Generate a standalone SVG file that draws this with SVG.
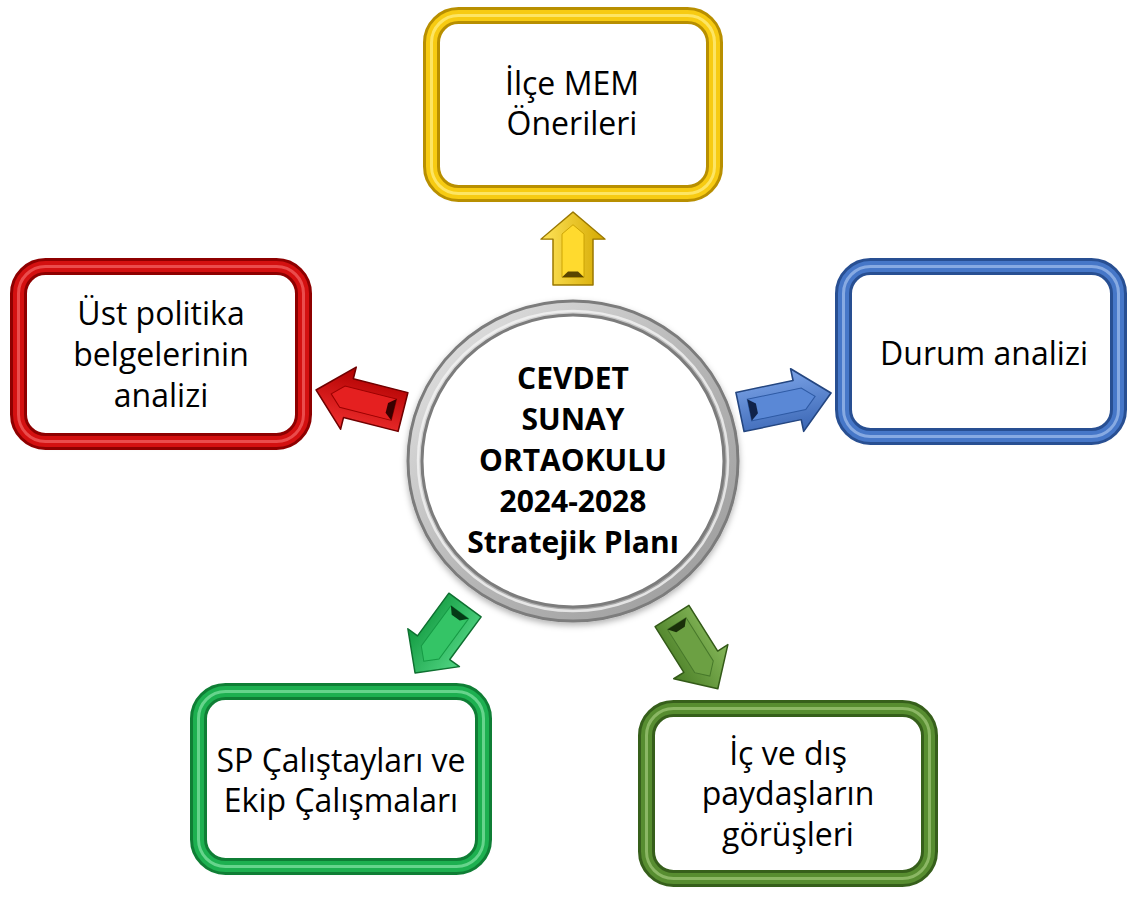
<svg xmlns="http://www.w3.org/2000/svg" width="1129" height="897" viewBox="0 0 1129 897">
<defs>
<style>
.t{font-family:"Open Sans","Liberation Sans",sans-serif;font-size:32px;fill:#000;text-anchor:middle}
.c{font-weight:bold;font-size:30px}
.inner{fill:#fff}
.f1{fill:none;stroke-width:17}
.f2{fill:none;stroke-width:11}
.f3{fill:none;stroke-width:3;opacity:.75}
.yellow .f1{stroke:#B88F00}.yellow .f2{stroke:#F7CB12}.yellow .f3{stroke:#FFEE80}
.red .f1{stroke:#8E0000}.red .f2{stroke:#D41010}.red .f3{stroke:#F26060}
.blue .f1{stroke:#284F92}.blue .f2{stroke:#4677C8}.blue .f3{stroke:#9DBBEB}
.green .f1{stroke:#0F7E35}.green .f2{stroke:#1DB050}.green .f3{stroke:#7FE0A0}
.olive .f1{stroke:#365F1B}.olive .f2{stroke:#578D30}.olive .f3{stroke:#9CC576}
.ao{stroke-width:1.5;stroke-linejoin:round}
.ai{stroke-width:1}
.an{stroke:none}
.yellow .ao{fill:url(#gY);stroke:#9A7800}.yellow .ai{fill:#FFDA2E;stroke:#C9A000}.yellow .an{fill:#5A4500}
.red .ao{fill:url(#gR);stroke:#700000}.red .ai{fill:#E52020;stroke:#9A0000}.red .an{fill:#3A0000}
.blue .ao{fill:url(#gB);stroke:#244680}.blue .ai{fill:#5A88D6;stroke:#2E5AA4}.blue .an{fill:#10234A}
.green .ao{fill:url(#gG);stroke:#0E7030}.green .ai{fill:#34C466;stroke:#159A44}.green .an{fill:#053A16}
.olive .ao{fill:url(#gO);stroke:#335A18}.olive .ai{fill:#6CA043;stroke:#47782A}.olive .an{fill:#1A300A}
</style>
<linearGradient id="gY" x1="0" y1="0" x2="0" y2="1"><stop offset="0" stop-color="#FFE45A"/><stop offset="1" stop-color="#D4A800"/></linearGradient>
<linearGradient id="gR" x1="0" y1="0" x2="0" y2="1"><stop offset="0" stop-color="#F23030"/><stop offset="1" stop-color="#B00000"/></linearGradient>
<linearGradient id="gB" x1="0" y1="0" x2="0" y2="1"><stop offset="0" stop-color="#7AA2E6"/><stop offset="1" stop-color="#3A66B4"/></linearGradient>
<linearGradient id="gG" x1="0" y1="0" x2="0" y2="1"><stop offset="0" stop-color="#52D684"/><stop offset="1" stop-color="#129A40"/></linearGradient>
<linearGradient id="gO" x1="0" y1="0" x2="0" y2="1"><stop offset="0" stop-color="#86B85A"/><stop offset="1" stop-color="#4A7E26"/></linearGradient>
<linearGradient id="gRing" x1="0" y1="0" x2="1" y2="1"><stop offset="0" stop-color="#E6E6E6"/><stop offset="0.5" stop-color="#B8B8B8"/><stop offset="1" stop-color="#9A9A9A"/></linearGradient>
<filter id="sh" x="-10%" y="-10%" width="120%" height="125%"><feDropShadow dx="0" dy="3" stdDeviation="3" flood-color="#000" flood-opacity="0.3"/></filter>
<path id="aO" d="M0,-20 H54 V-32 L86,0 L54,32 V20 H0 Z"/>
<path id="aI" d="M9,-11 H60 L71,0 L60,11 H9 Z"/>
<path id="aN" d="M9,-11 L16,-5 V5 L9,11 Z"/>
</defs>
<rect width="1129" height="897" fill="#fff"/>

<g id="connectors">
  <g class="yellow" transform="translate(573,285) rotate(-90) scale(0.849,1)"><use href="#aO" class="ao"/><use href="#aI" class="ai"/><use href="#aN" class="an"/></g>
  <g class="red" transform="translate(403,412) rotate(194.2) scale(1.043,1)"><use href="#aO" class="ao"/><use href="#aI" class="ai"/><use href="#aN" class="an"/></g>
  <g class="blue" transform="translate(740,412) rotate(-11.8) scale(1.081,1)"><use href="#aO" class="ao"/><use href="#aI" class="ai"/><use href="#aN" class="an"/></g>
  <g class="green" transform="translate(465,605) rotate(126.3) scale(0.981,1)"><use href="#aO" class="ao"/><use href="#aI" class="ai"/><use href="#aN" class="an"/></g>
  <g class="olive" transform="translate(672,616) rotate(57.8) scale(1.0,1)"><use href="#aO" class="ao"/><use href="#aI" class="ai"/><use href="#aN" class="an"/></g>
</g>

<g id="center">
  <ellipse cx="573" cy="461" rx="158" ry="153" fill="#fff" stroke="#7C7C7C" stroke-width="17" filter="url(#sh)"/>
  <ellipse cx="573" cy="461" rx="158" ry="153" fill="none" stroke="url(#gRing)" stroke-width="11"/>
  <ellipse cx="573" cy="461" rx="155" ry="150" fill="none" stroke="#F4F4F4" stroke-width="2.5" opacity="0.8"/>
  <text class="t c" x="573" y="389">CEVDET</text>
  <text class="t c" x="573" y="430">SUNAY</text>
  <text class="t c" x="573" y="471">ORTAOKULU</text>
  <text class="t c" x="573" y="512">2024-2028</text>
  <text class="t c" x="573" y="553">Stratejik Planı</text>
</g>

<g id="box-ilce" class="yellow">
  <rect x="431.5" y="15.5" width="283" height="178" rx="27" class="inner" filter="url(#sh)"/>
  <rect x="431.5" y="15.5" width="283" height="178" rx="27" class="f1"/>
  <rect x="431.5" y="15.5" width="283" height="178" rx="27" class="f2"/>
  <rect x="431.5" y="15.5" width="283" height="178" rx="27" class="f3"/>
  <text class="t" x="572" y="95">İlçe MEM</text>
  <text class="t" x="572" y="135">Önerileri</text>
</g>

<g id="box-ust" class="red">
  <rect x="18.5" y="266.5" width="285" height="175" rx="27" class="inner" filter="url(#sh)"/>
  <rect x="18.5" y="266.5" width="285" height="175" rx="27" class="f1"/>
  <rect x="18.5" y="266.5" width="285" height="175" rx="27" class="f2"/>
  <rect x="18.5" y="266.5" width="285" height="175" rx="27" class="f3"/>
  <text class="t" x="161" y="325">Üst politika</text>
  <text class="t" x="161" y="366">belgelerinin</text>
  <text class="t" x="161" y="407">analizi</text>
</g>

<g id="box-durum" class="blue">
  <rect x="843.5" y="266.5" width="275" height="170" rx="27" class="inner" filter="url(#sh)"/>
  <rect x="843.5" y="266.5" width="275" height="170" rx="27" class="f1"/>
  <rect x="843.5" y="266.5" width="275" height="170" rx="27" class="f2"/>
  <rect x="843.5" y="266.5" width="275" height="170" rx="27" class="f3"/>
  <text class="t" x="984" y="365">Durum analizi</text>
</g>

<g id="box-sp" class="green">
  <rect x="198.5" y="691.5" width="285" height="175" rx="27" class="inner" filter="url(#sh)"/>
  <rect x="198.5" y="691.5" width="285" height="175" rx="27" class="f1"/>
  <rect x="198.5" y="691.5" width="285" height="175" rx="27" class="f2"/>
  <rect x="198.5" y="691.5" width="285" height="175" rx="27" class="f3"/>
  <text class="t" x="341" y="772">SP Çalıştayları ve</text>
  <text class="t" x="341" y="812">Ekip Çalışmaları</text>
</g>

<g id="box-paydas" class="olive">
  <rect x="646.5" y="708.5" width="283" height="170" rx="27" class="inner" filter="url(#sh)"/>
  <rect x="646.5" y="708.5" width="283" height="170" rx="27" class="f1"/>
  <rect x="646.5" y="708.5" width="283" height="170" rx="27" class="f2"/>
  <rect x="646.5" y="708.5" width="283" height="170" rx="27" class="f3"/>
  <text class="t" x="788" y="765">İç ve dış</text>
  <text class="t" x="788" y="805">paydaşların</text>
  <text class="t" x="788" y="846">görüşleri</text>
</g>
</svg>
